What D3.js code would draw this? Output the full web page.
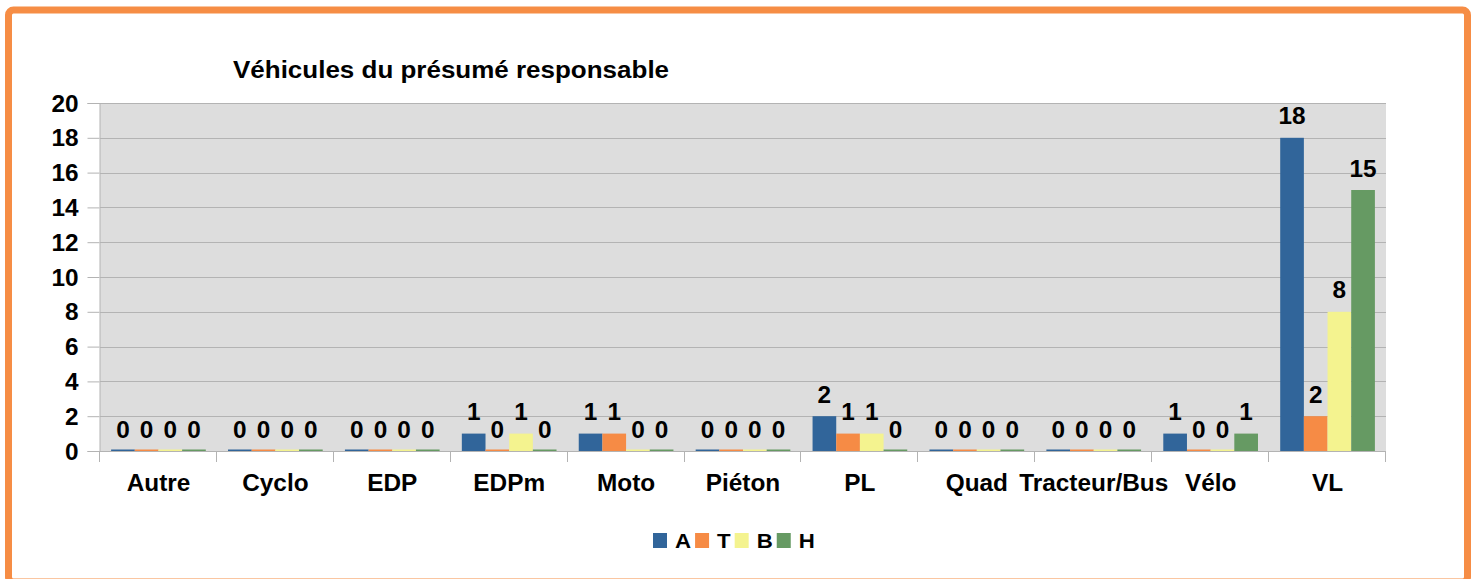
<!DOCTYPE html>
<html>
<head>
<meta charset="utf-8">
<script src="https://cdn.jsdelivr.net/npm/d3@7"></script>
<style>
  html, body { margin: 0; padding: 0; background: #ffffff; }
  svg { display: block; font-family: "Liberation Sans", Arial, sans-serif; }
</style>
</head>
<body>
<svg id="chart" width="1478" height="579"></svg>
<script>
const categories = ["Autre", "Cyclo", "EDP", "EDPm", "Moto", "Piéton", "PL", "Quad", "Tracteur/Bus", "Vélo", "VL"];
const seriesNames = ["A", "T", "B", "H"];
const valuesA = [0, 0, 0, 1, 1, 0, 2, 0, 0, 1, 18];
const valuesT = [0, 0, 0, 0, 1, 0, 1, 0, 0, 0, 2];
const valuesB = [0, 0, 0, 1, 0, 0, 1, 0, 0, 0, 8];
const valuesH = [0, 0, 0, 0, 0, 0, 0, 0, 0, 1, 15];
const yTicks = [0, 2, 4, 6, 8, 10, 12, 14, 16, 18, 20];
const titleText = "Véhicules du présumé responsable";

const seriesValues = [valuesA, valuesT, valuesB, valuesH];
const colors = ["#31659a", "#f68b45", "#f4f38f", "#669a63"];

const svg = d3.select("#chart");
const plot = { left: 100, right: 1386, top: 103, bottom: 451 };
const FS = 23;      // main label font size
const SX = 1.06;    // horizontal stretch of labels
const TSX = 1.13;   // horizontal stretch of title

// Frame
svg.append("rect")
  .attr("x", 8.5).attr("y", 10)
  .attr("width", 1459).attr("height", 572)
  .attr("rx", 5).attr("ry", 5)
  .attr("fill", "#ffffff")
  .attr("stroke", "#f68d45")
  .attr("stroke-width", 7);

const x0 = d3.scaleBand().domain(categories).range([plot.left, plot.right]).padding(0);
const x1 = d3.scaleBand().domain(seriesNames)
  .range([x0.bandwidth() * 0.095, x0.bandwidth() * 0.905]).padding(0);
const y = d3.scaleLinear().domain([0, 20]).range([plot.bottom, plot.top]);

// Plot background
svg.append("rect")
  .attr("x", plot.left).attr("y", plot.top)
  .attr("width", plot.right - plot.left).attr("height", plot.bottom - plot.top)
  .attr("fill", "#dddddd");

// Gridlines
svg.append("g").selectAll("line").data(yTicks).join("line")
  .attr("x1", plot.left).attr("x2", plot.right)
  .attr("y1", d => Math.round(y(d)) + 0.5).attr("y2", d => Math.round(y(d)) + 0.5)
  .attr("stroke", "#b3b3b3").attr("stroke-width", 1);

// Y axis
const yAxis = d3.axisLeft(y).tickValues(yTicks).tickSize(12).tickPadding(9);
const gy = svg.append("g").attr("transform", `translate(${plot.left - 0.5},0)`).call(yAxis);
gy.select(".domain").attr("stroke", "#b3b3b3");
gy.selectAll(".tick line").attr("stroke", "#b3b3b3");
gy.selectAll(".tick text")
  .attr("font-family", "Liberation Sans, Arial, sans-serif")
  .attr("font-size", FS).attr("font-weight", "bold").attr("fill", "#000")
  .attr("x", null).attr("dy", null)
  .attr("transform", `translate(-21,8) scale(${SX},1)`);

// Bars
const groups = svg.append("g").selectAll("g").data(categories).join("g")
  .attr("transform", d => `translate(${x0(d)},0)`);

groups.each(function(cat, ci) {
  const g = d3.select(this);
  const data = seriesNames.map((s, si) => ({ s, si, v: seriesValues[si][ci] }));
  g.selectAll("rect").data(data).join("rect")
    .attr("x", d => x1(d.s))
    .attr("width", x1.bandwidth())
    .attr("y", d => Math.min(y(d.v), y(0) - 1.5))
    .attr("height", d => Math.max(y(0) - y(d.v), 1.5))
    .attr("fill", d => colors[d.si]);
  g.selectAll("text").data(data).join("text")
    .attr("transform", d => `translate(${x1(d.s) + x1.bandwidth() / 2},${y(d.v) - 13.5}) scale(${SX},1)`)
    .attr("text-anchor", "middle")
    .attr("font-size", FS).attr("font-weight", "bold").attr("fill", "#000")
    .text(d => d.v);
});

// X axis
const xAxisLine = svg.append("g");
xAxisLine.append("line")
  .attr("x1", plot.left).attr("x2", plot.right)
  .attr("y1", plot.bottom + 0.5).attr("y2", plot.bottom + 0.5)
  .attr("stroke", "#b3b3b3");
const boundaries = categories.map(c => x0(c)).concat([x0(categories[categories.length - 1]) + x0.bandwidth()]);
xAxisLine.selectAll("line.tk").data(boundaries).join("line").attr("class", "tk")
  .attr("x1", d => Math.round(d) - 0.5).attr("x2", d => Math.round(d) - 0.5)
  .attr("y1", plot.bottom).attr("y2", plot.bottom + 11)
  .attr("stroke", "#b3b3b3");
svg.append("g").selectAll("text").data(categories).join("text")
  .attr("transform", d => `translate(${x0(d) + x0.bandwidth() / 2},491) scale(${SX},1)`)
  .attr("text-anchor", "middle")
  .attr("font-size", FS).attr("font-weight", "bold").attr("fill", "#000")
  .text(d => d);

// Title
svg.append("text")
  .attr("transform", `translate(233,78) scale(${TSX},1)`)
  .attr("font-size", FS).attr("font-weight", "bold").attr("fill", "#000")
  .text(titleText);

// Legend
const legend = svg.append("g");
let lx = 653;
seriesNames.forEach((s, i) => {
  legend.append("rect")
    .attr("x", lx).attr("y", 533)
    .attr("width", 14).attr("height", 15)
    .attr("fill", colors[i]);
  const t = legend.append("text")
    .attr("transform", `translate(${lx + 22},548) scale(${SX},1)`)
    .attr("font-size", 21).attr("font-weight", "bold").attr("fill", "#000")
    .text(s);
  const w = t.node().getComputedTextLength() * SX;
  lx = lx + 22 + w + 4;
});
</script>
</body>
</html>
